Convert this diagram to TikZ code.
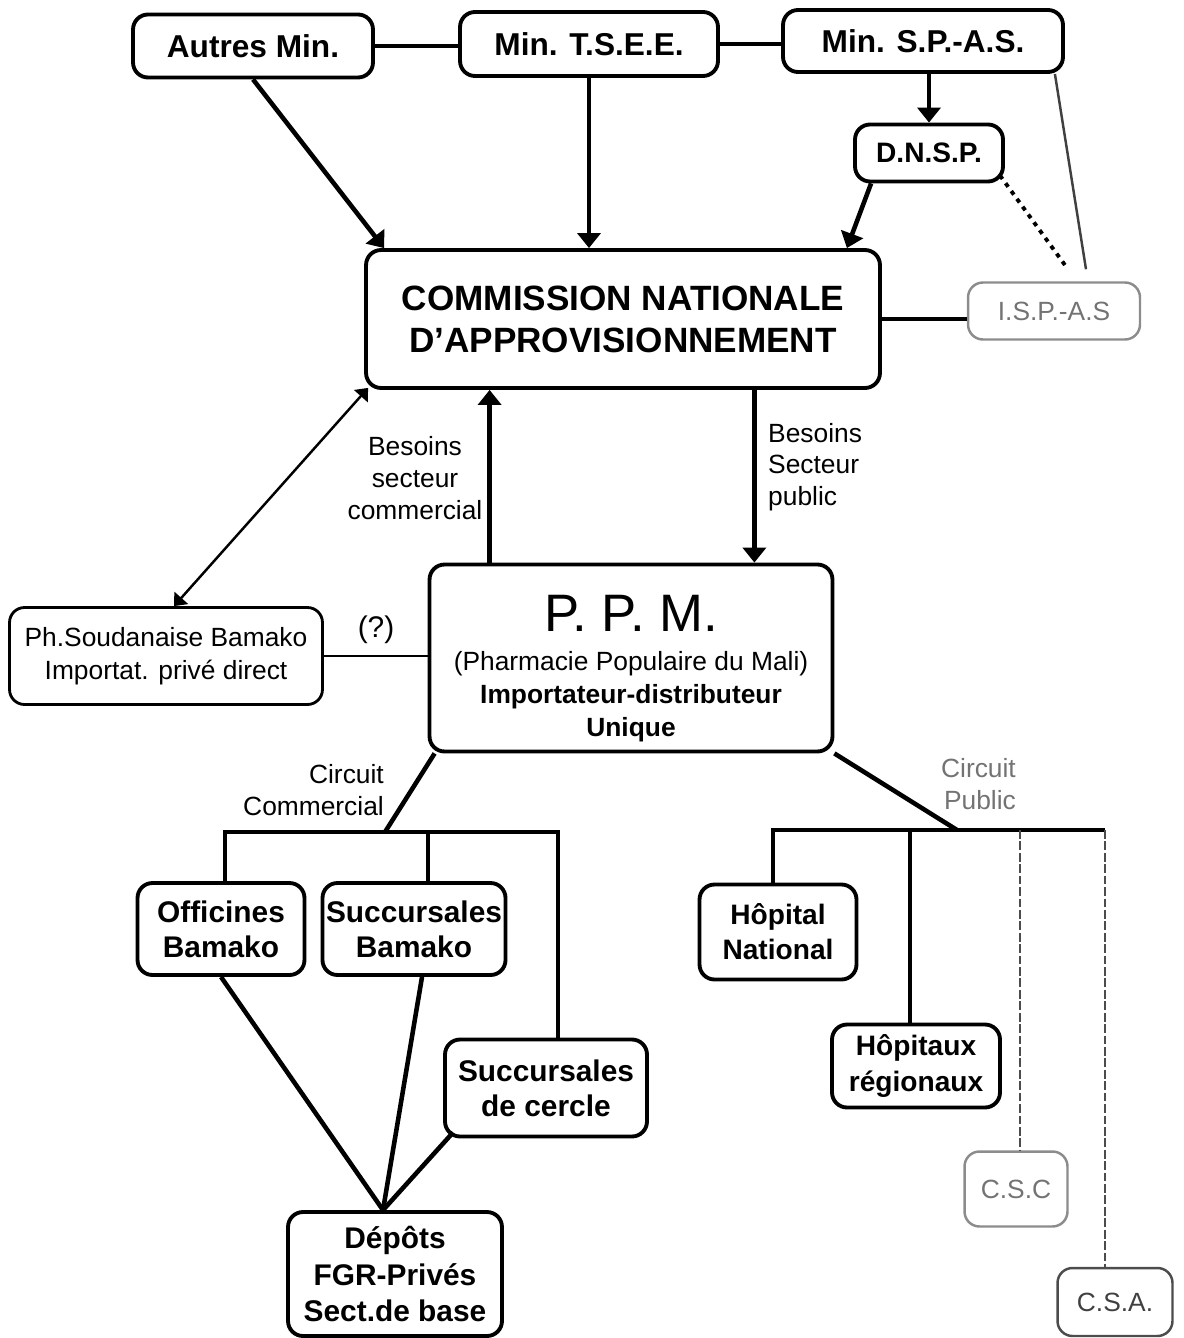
\documentclass[tikz,border=0pt]{standalone}
\usepackage{fontspec}
\setmainfont{Liberation Sans}
\usetikzlibrary{arrows.meta,calc}

\tikzset{
  box/.style={draw, line width=2.2pt, rounded corners=0.3cm, align=center, inner sep=2pt},
  fadedbox/.style={box, draw=black!45, text=black!55, line width=1.4pt},
  link/.style={line width=2.6pt},
  thinlink/.style={line width=1.4pt},
  arr/.style={link, -{Triangle[width=0.46cm,length=0.3cm]}},
  lbl/.style={font=\fontsize{15}{18}\selectfont, align=center},
  fadedlink/.style={line width=1.6pt, black!70, dash pattern=on 5pt off 1.5pt},
}

\begin{document}
\begin{tikzpicture}[x=0.02cm, y=-0.02cm]
  \useasboundingbox (0,0) rectangle (1183,1338);

  % ministeres
  \node[box, minimum width=4.8cm, minimum height=1.26cm, font=\fontsize{18}{20}\selectfont\bfseries] (autres) at (253,46) {Autres Min.};
  \node[box, minimum width=5.16cm, minimum height=1.28cm, font=\fontsize{18}{20}\selectfont\bfseries] (tsee) at (589,44) {Min. T.S.E.E.};
  \node[box, minimum width=5.6cm, minimum height=1.24cm, font=\fontsize{18}{20}\selectfont\bfseries] (spas) at (923,41) {Min. S.P.-A.S.};
  \node[box, minimum width=2.96cm, minimum height=1.14cm, font=\fontsize{16}{18}\selectfont\bfseries] (dnsp) at (929,153) {D.N.S.P.};

  % commission
  \node[box, minimum width=10.28cm, minimum height=2.76cm, font=\fontsize{20}{24}\selectfont\bfseries] (comm) at (623,319) {COMMISSION NATIONALE\\D'APPROVISIONNEMENT};
  \node[fadedbox, minimum width=3.44cm, minimum height=1.14cm, font=\fontsize{15}{18}\selectfont] (ispas) at (1054,311) {I.S.P.-A.S};

  % importateurs
  \node[box, minimum width=8.06cm, minimum height=3.74cm, font=\fontsize{15}{19}\selectfont] (ppm) at (631,658)
    {{\fontsize{30}{32}\selectfont\rule{0pt}{33pt}P. P. M.}\\[3pt] (Pharmacie Populaire du Mali)\\ \textbf{Importateur-distributeur}\\ \textbf{Unique}};
  \node[box, line width=1.6pt, minimum width=6.26cm, minimum height=1.94cm, font=\fontsize{15}{19}\selectfont] (ph) at (166,656) {Ph.Soudanaise Bamako\\Importat. privé direct};

  % circuit commercial
  \node[box, minimum width=3.34cm, minimum height=1.84cm, font=\fontsize{17}{20}\selectfont\bfseries] (offic) at (221,929) {Officines\\Bamako};
  \node[box, minimum width=3.56cm, minimum height=1.84cm, font=\fontsize{17}{20}\selectfont\bfseries] (succb) at (414,929) {Succursales\\Bamako};
  \node[box, minimum width=4.04cm, minimum height=1.94cm, font=\fontsize{17}{20}\selectfont\bfseries] (succc) at (546,1088) {Succursales\\de cercle};
  \node[box, minimum width=4.28cm, minimum height=2.48cm, font=\fontsize{17}{21}\selectfont\bfseries] (depots) at (395,1274) {Dépôts\\FGR-Privés\\Sect.de base};

  % circuit public
  \node[box, minimum width=3.14cm, minimum height=1.9cm, font=\fontsize{16}{20}\selectfont\bfseries] (hopn) at (778,932) {Hôpital\\National};
  \node[box, minimum width=3.36cm, minimum height=1.66cm, font=\fontsize{16}{20}\selectfont\bfseries] (hopr) at (916,1066) {Hôpitaux\\régionaux};
  \node[fadedbox, minimum width=2.06cm, minimum height=1.5cm, font=\fontsize{15}{18}\selectfont] (csc) at (1016,1189) {C.S.C};
  \node[fadedbox, draw=black!70, text=black!75, minimum width=2.3cm, minimum height=1.36cm, font=\fontsize{15}{18}\selectfont] (csa) at (1115,1302) {C.S.A.};

  % liens du haut
  \draw[link] (autres.east) -- (autres.east -| tsee.west);
  \draw[link] (tsee.east) -- (tsee.east -| spas.west);
  \draw[arr] (dnsp.north |- spas.south) -- (dnsp.north);
  \draw[arr] (autres.south) -- ($(comm.north west)+(20,0)$);
  \draw[arr] (tsee.south) -- (tsee.south |- comm.north);
  \draw[arr] ($(dnsp.south west)+(18,0)$) -- ($(comm.north east)+(-35,0)$);
  \draw[link] (comm.east) -- (comm.east -| ispas.west);
  \draw[thinlink, black!75] ($(spas.south east)+(-10,0)$) -- ($(ispas.north)+(32,-12)$);
  \draw[line width=2.2pt, dash pattern=on 2.5pt off 3pt] ($(dnsp.south east)+(-5,-8)$) -- ($(ispas.north)+(14,-12)$);

  % besoins
  \coordinate (up) at ($(ppm.north west)+(62,0)$);
  \coordinate (down) at ($(ppm.north east)+(-80,0)$);
  \draw[arr] (up) -- (up |- comm.south);
  \draw[arr] (down |- comm.south) -- (down);
  \draw[thinlink, {Triangle[width=0.36cm,length=0.22cm]}-{Triangle[width=0.36cm,length=0.22cm]}] ($(comm.south west)+(4,-2)$) -- ($(ph.north)+(8,0)$);
  \draw[thinlink] (ph.east) -- (ph.east -| ppm.west);

  \node[lbl] (bcom) at (415,478) {Besoins\\secteur\\commercial};
  \node[lbl, align=left, anchor=west] (bpub) at (762,467) {Besoins\\Secteur\\public};
  \node[lbl, font=\fontsize{17}{20}\selectfont] (quest) at (376,630) {(?)};

  % distribution commerciale
  \coordinate (cc) at (385,832);
  \coordinate (cl) at (225,832);
  \coordinate (cm) at (428,832);
  \coordinate (cr) at (558,832);
  \draw[link] ($(ppm.south west)+(7,0)$) -- (cc);
  \draw[link] (cl |- offic.north) -- (cl) -- (cr) -- (cr |- succc.north);
  \draw[link] (cm) -- (cm |- succb.north);
  \coordinate (dp) at ($(depots.north)+(-12,0)$);
  \draw[link] (offic.south) -- (dp);
  \draw[link] ($(succb.south)+(8,0)$) -- (dp);
  \draw[link] ($(succc.south west)+(10,-6)$) -- (dp);
  \node[lbl, align=right, anchor=east] (ccom) at (390,790) {Circuit\\Commercial};

  % distribution publique
  \coordinate (pc) at (957,830);
  \coordinate (pl) at (773,830);
  \coordinate (pm) at (910,830);
  \coordinate (ps) at (1020,830);
  \coordinate (pr) at (1105,830);
  \draw[link] (ppm.south east) -- (pc);
  \draw[link] (pl |- hopn.north) -- (pl) -- (pr);
  \draw[link] (pm) -- (pm |- hopr.north);
  \draw[fadedlink] (ps) -- (ps |- csc.north);
  \draw[fadedlink] (pr) -- (pr |- csa.north);
  \node[lbl, align=right, anchor=east, text=black!55] (cpub) at (1022,784) {Circuit\\Public};
\end{tikzpicture}
\end{document}
